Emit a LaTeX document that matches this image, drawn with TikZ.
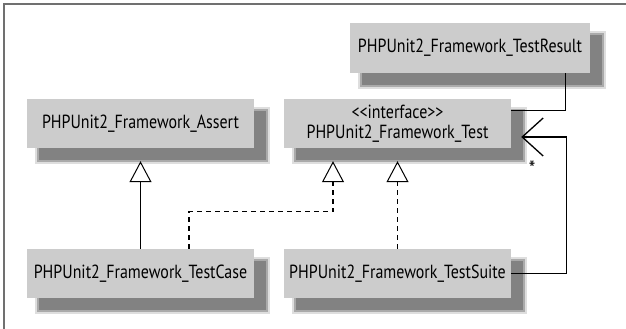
\documentclass[tikz,border=0pt]{standalone}
\usepackage{fontspec}
\setmainfont{PT Sans}[FakeStretch=0.84]
\usetikzlibrary{arrows.meta,calc,backgrounds}
\definecolor{boxfill}{RGB}{204,204,204}
\definecolor{framec}{RGB}{112,112,112}
\definecolor{shA}{RGB}{222,222,222}
\definecolor{shB}{RGB}{170,170,170}
\definecolor{shC}{RGB}{130,130,130}
\begin{document}
\begin{tikzpicture}[x=1pt,y=-1pt,
  cls/.style={fill=boxfill, minimum width=227pt, minimum height=49pt, inner sep=0pt,
    font=\fontsize{19}{20.5}\selectfont, align=center},
  conn/.style={line width=1.3pt, black},
  inh/.style={conn, -{Triangle[open,length=21pt,width=22pt,line width=1pt]}},
  dsh/.style={dash pattern=on 5pt off 4pt},
  agg/.style={conn, -{Straight Barb[length=21pt,width=38pt,line width=1.3pt]}}
]
\useasboundingbox (0,0) rectangle (626,329);
\draw[framec, line width=2pt] (4,329) -- (4,4) -- (626,4);

\node[cls, minimum width=240pt, minimum height=50pt] (res) at (470,48) {PHPUnit2\_Framework\_TestResult};
\node[cls] (ass) at (140.5,123.5) {PHPUnit2\_Framework\_Assert};
\node[cls] (tst) at (397.5,123.5) {<{}<interface>{}>\\PHPUnit2\_Framework\_Test};
\node[cls] (tc) at (140.5,273.5) {PHPUnit2\_Framework\_TestCase};
\node[cls] (ts) at (397.5,273.5) {PHPUnit2\_Framework\_TestSuite};

\begin{scope}[on background layer]
\foreach \n in {res,ass,tst,tc,ts}{
  \fill[shA] ($(\n.north west)+(8,8)$) rectangle ($(\n.south east)+(16,16)$);
  \fill[shB] ($(\n.north west)+(10,10)$) rectangle ($(\n.south east)+(14,14)$);
  \fill[shC] ($(\n.north west)+(12,12)$) rectangle ($(\n.south east)+(12,12)$);
}
\end{scope}

% association TestResult -- Test
\draw[conn] ($(res.south west)+(216,0)$) |- ($(tst.north east)+(0,12)$);
% aggregation TestSuite -> Test
\draw[agg] (ts.east) -| ($(tst.east)+(55,13.5)$) -- ($(tst.east)+(10,13.5)$);
\node[font=\fontsize{22}{22}\selectfont, inner sep=0pt] (star) at (532,169) {*};
% inheritance
\draw[inh] (tc.north) -- ($(ass.south)+(0,13)$);
\draw[inh, dsh] ($(tc.north)+(48.5,0)$) -- ++(0,-37) -| ($(tst.south)+(-64.5,13)$);
\draw[inh, dsh] (ts.north) -- ($(tst.south)+(0,13)$);
\end{tikzpicture}
\end{document}
